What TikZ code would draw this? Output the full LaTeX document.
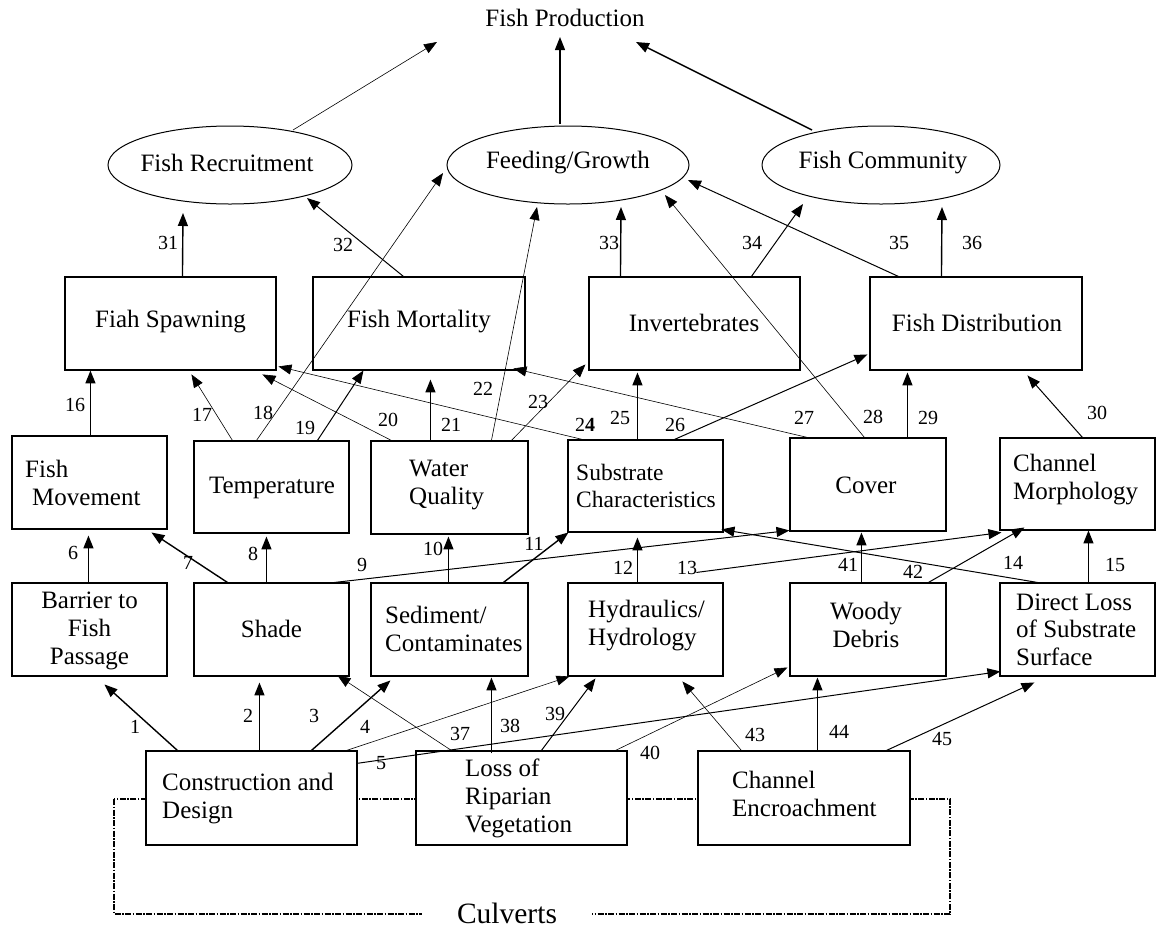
\documentclass[tikz,border=0pt]{standalone}
\usepackage{fontspec}
\setmainfont{Liberation Serif}
\usetikzlibrary{arrows.meta,shapes.geometric,calc}
\begin{document}
\begin{tikzpicture}[x=1pt,y=-1pt,
  box/.style={draw, line width=1.1pt, fill=white, inner sep=0pt, rectangle},
  oval/.style={draw, ellipse, line width=1pt, inner sep=0pt},
  txt/.style={font=\fontsize{25}{28}\selectfont, inner sep=0pt},
  num/.style={font=\fontsize{20}{22}\selectfont, inner sep=0pt},
  thk/.style={line width=1.4pt, -{Triangle[length=13pt,width=10pt]}},
  med/.style={line width=1.0pt, -{Triangle[length=13pt,width=10pt]}},
  thn/.style={line width=0.6pt, -{Triangle[length=13pt,width=10pt]}},
  culvline/.style={line width=1.4pt, dash pattern=on 6pt off 1.5pt on 1.5pt off 1.5pt},
]
\useasboundingbox (0,0) rectangle (1157,930);

% Culverts frame
\draw[culvline] (114,799) rectangle (950,914);

% top ellipses and goal
\node[txt] (fp) at (565,18) {Fish Production};
\node[oval, minimum width=244, minimum height=78] (rec) at (230,165) {};
\node[oval, minimum width=242, minimum height=78] (feed) at (568,165) {};
\node[oval, minimum width=238, minimum height=78] (comm) at (881,165) {};
\node[txt] (trec) at (227,163) {Fish Recruitment};
\node[txt] (tfeed) at (568,163) {Feeding/Growth};
\node[txt] (tcomm) at (883,163) {Fish Community};

% row 3
\node[box, minimum width=211, minimum height=93] (spawn) at (170.5,323.5) {};
\node[box, minimum width=212, minimum height=93] (mort) at (419,323.5) {};
\node[box, minimum width=211, minimum height=93] (inv) at (694.5,323.5) {};
\node[box, minimum width=212, minimum height=93] (dist) at (976,323.5) {};
\node[txt] (tspawn) at (170.5,322) {Fiah Spawning};
\node[txt] (tmort) at (419,322) {Fish Mortality};
\node[txt] (tinv) at (694,323) {Invertebrates};
\node[txt] (tdist) at (977,323) {Fish Distribution};

% row 2
\node[box, minimum width=155, minimum height=93] (fm) at (89.5,482.5) {};
\node[box, minimum width=155, minimum height=92] (temp) at (271.5,487) {};
\node[box, minimum width=157, minimum height=93] (wq) at (449.5,487.5) {};
\node[box, minimum width=155, minimum height=92] (sub) at (645.5,486) {};
\node[box, minimum width=156, minimum height=93] (cover) at (868,484.5) {};
\node[box, minimum width=155, minimum height=92] (cm) at (1077.5,484) {};
\node[txt, align=left, anchor=west] (tfm) at (25,483) {Fish\\\hspace*{7pt}Movement};
\node[txt] (ttemp) at (272,488) {Temperature};
\node[txt, align=left, anchor=west] (twq) at (409,485.5) {Water\\Quality};
\node[txt, align=left, anchor=west, font=\fontsize{23.5}{27}\selectfont] (tsub) at (576,485.5) {Substrate\\Characteristics};
\node[txt] (tcover) at (866,485) {Cover};
\node[txt, align=left, anchor=west] (tcm) at (1013,480) {Channel\\Morphology};

% row 1
\node[box, minimum width=155, minimum height=93] (barrier) at (89.5,629.5) {};
\node[box, minimum width=155, minimum height=93] (shade) at (271.5,629.5) {};
\node[box, minimum width=157, minimum height=93] (sed) at (449.5,629.5) {};
\node[box, minimum width=155, minimum height=93] (hyd) at (645.5,629.5) {};
\node[box, minimum width=156, minimum height=93] (woody) at (868,629.5) {};
\node[box, minimum width=155, minimum height=93] (dl) at (1077.5,629.5) {};
\node[txt, align=center] (tbarrier) at (89.5,631) {Barrier to\\Fish\\Passage};
\node[txt] (tshade) at (271.5,629) {Shade};
\node[txt, align=left, anchor=west] (tsed) at (385,629) {Sediment/\\Contaminates};
\node[txt, align=left, anchor=west] (thyd) at (588,626) {Hydraulics/\\Hydrology};
\node[txt, align=center] (twoody) at (866,625) {Woody\\Debris};
\node[txt, align=left, anchor=west, font=\fontsize{25}{27.5}\selectfont] (tdl) at (1016,629.5) {Direct Loss\\of Substrate\\Surface};

% row 0
\node[box, minimum width=211, minimum height=94] (cd) at (251.5,798) {};
\node[box, minimum width=211, minimum height=94] (lrv) at (521.5,798) {};
\node[box, minimum width=212, minimum height=94] (ce) at (804,798) {};
\node[txt, align=left, anchor=west] (tcd) at (162,799) {Construction and\\Design};
\node[txt, align=left, anchor=west] (tlrv) at (465,798.5) {Loss of\\Riparian\\Vegetation};
\node[txt, align=left, anchor=west] (tce) at (732,794) {Channel\\Encroachment};

\node[font=\fontsize{29.5}{32}\selectfont, fill=white, inner xsep=35pt, inner ysep=3pt] (culv) at (507,913) {Culverts};

% arrows to Fish Production
\draw[thn] ($(rec.center)+(63,-35)$) -- ($(fp.center)+(-128,24)$);
\draw[thk] ($(feed.center)+(-8,-41)$) -- ($(fp.center)+(-5,19)$);
\draw[thk] ($(comm.center)+(-69,-35)$) -- ($(fp.center)+(71,24)$);

% 31-36
\draw[thk] ($(spawn.north west)+(118,0)$) -- ($(rec.center)+(-47,48)$);
\draw[med] ($(mort.north west)+(91,0)$) -- ($(rec.center)+(77,33)$);
\draw[thk] ($(inv.north west)+(32,0)$) -- ($(feed.center)+(53,42)$);
\draw[med] ($(inv.north west)+(163,0)$) -- ($(comm.center)+(-78,39)$);
\draw[med] ($(dist.north west)+(29,0)$) -- ($(feed.center)+(120,15)$);
\draw[thk] ($(dist.north west)+(72,0)$) -- ($(comm.center)+(61,42)$);

% 16-30
\draw[thk] ($(fm.north west)+(79,0)$) -- ($(spawn.north west)+(26,94)$);
\draw[thn] ($(temp.north west)+(39,0)$) -- ($(spawn.north west)+(127,98)$);
\draw[thn] ($(temp.north west)+(63,0)$) -- ($(feed.center)+(-125,8)$);
\draw[med] ($(temp.north west)+(124,0)$) -- ($(mort.north west)+(51,94)$);
\draw[thn] ($(wq.north west)+(21,0)$) -- ($(spawn.north west)+(198,98)$);
\draw[thk] ($(wq.north west)+(60,0)$) -- ($(mort.north west)+(118,103)$);
\draw[thn] ($(wq.north west)+(121,0)$) -- ($(feed.center)+(-31,42)$);
\draw[thn] ($(wq.north west)+(141,0)$) -- ($(inv.north west)+(-3,88)$);
\draw[thn] ($(sub.north west)+(15,0)$) -- ($(spawn.north west)+(214,90)$);
\draw[thk] ($(sub.north west)+(70,0)$) -- ($(inv.north west)+(49,96)$);
\draw[med] ($(sub.north west)+(107,0)$) -- ($(dist.north west)+(-2,78)$);
\draw[thn] ($(cover.north west)+(18,0)$) -- ($(mort.north west)+(201,92)$);
\draw[thn] ($(cover.north west)+(75,0)$) -- ($(feed.center)+(97,30)$);
\draw[thk] ($(cover.north west)+(118,0)$) -- ($(dist.north west)+(38,96)$);
\draw[med] ($(cm.north west)+(83,0)$) -- ($(dist.north west)+(158,99)$);

% 6-15, 41, 42
\draw[thk] ($(barrier.north west)+(77,0)$) -- ($(fm.north west)+(77,100)$);
\draw[thk] ($(shade.north west)+(34,0)$) -- ($(fm.north west)+(140,97)$);
\draw[thk] ($(shade.north west)+(73,0)$) -- ($(temp.north west)+(73,96)$);
\draw[med] ($(shade.north west)+(141,0)$) -- ($(cover.north west)+(0,93)$);
\draw[thk] ($(sed.north west)+(78,0)$) -- ($(wq.north west)+(78,96)$);
\draw[thk] ($(sed.north west)+(133,0)$) -- ($(sub.north west)+(1,93)$);
\draw[thk] ($(hyd.north west)+(70,0)$) -- ($(sub.north west)+(70,98)$);
\draw[med] ($(hyd.north west)+(129,-10)$) -- ($(cm.north west)+(2,95)$);
\draw[med] ($(dl.north west)+(38,0)$) -- ($(sub.north west)+(154,90)$);
\draw[thk] ($(dl.north west)+(89,0)$) -- ($(cm.north west)+(89,93)$);
\draw[thk] ($(woody.north west)+(72,0)$) -- ($(cover.north west)+(72,95)$);
\draw[med] ($(woody.north west)+(139,0)$) -- ($(cm.north west)+(25,90)$);

% 1-5, 37-40, 43-45
\draw[thk] ($(cd.north west)+(32,0)$) -- ($(barrier.north west)+(93,102)$);
\draw[thk] ($(cd.north west)+(114,0)$) -- ($(shade.north west)+(66,100)$);
\draw[thk] ($(cd.north west)+(166,0)$) -- ($(sed.north west)+(20,98)$);
\draw[thn] ($(cd.north west)+(201,0)$) -- ($(hyd.north west)+(2,94)$);
\draw[med] ($(cd.north west)+(211,13)$) -- ($(dl.north west)+(1,89)$);
\draw[thn] ($(lrv.north west)+(36,0)$) -- ($(shade.north west)+(144,93)$);
\draw[thk] ($(lrv.north west)+(76,3)$) -- ($(sed.north west)+(121,95)$);
\draw[med] ($(lrv.north west)+(126,0)$) -- ($(hyd.north west)+(28,96)$);
\draw[thn] ($(lrv.north west)+(200,0)$) -- ($(woody.north west)+(-2,85)$);
\draw[thn] ($(ce.north west)+(44,0)$) -- ($(hyd.north west)+(115,99)$);
\draw[thk] ($(ce.north west)+(120,0)$) -- ($(woody.north west)+(28,95)$);
\draw[med] ($(ce.north west)+(189,0)$) -- ($(dl.north west)+(35,100)$);

% labels
\node[num] (l1) at (135,727) {1};
\node[num] (l2) at (248,716) {2};
\node[num] (l3) at (314,716) {3};
\node[num] (l4) at (365,727) {4};
\node[num] (l5) at (381,763) {5};
\node[num] (l6) at (73,553) {6};
\node[num] (l7) at (188,563) {7};
\node[num] (l8) at (253,554) {8};
\node[num] (l9) at (362,565) {9};
\node[num] (l10) at (433,549) {10};
\node[num] (l11) at (534,544) {11};
\node[num] (l12) at (623,568) {12};
\node[num] (l13) at (687,568) {13};
\node[num] (l14) at (1013,563) {14};
\node[num] (l15) at (1115,565) {15};
\node[num] (l16) at (75,405) {16};
\node[num] (l17) at (202,415) {17};
\node[num] (l18) at (263,413) {18};
\node[num] (l19) at (305,428) {19};
\node[num] (l20) at (388,420) {20};
\node[num] (l21) at (451,425) {21};
\node[num] (l22) at (483,389) {22};
\node[num] (l23) at (538,402) {23};
\node[num] (l24) at (585,425) {2\textbf{4}};
\node[num] (l25) at (620,418) {25};
\node[num] (l26) at (675,425) {26};
\node[num] (l27) at (804,418) {27};
\node[num] (l28) at (873,417) {28};
\node[num] (l29) at (928,418) {29};
\node[num] (l30) at (1097,413) {30};
\node[num] (l31) at (168,243) {31};
\node[num] (l32) at (343,245) {32};
\node[num] (l33) at (609,243) {33};
\node[num] (l34) at (752,243) {34};
\node[num] (l35) at (899,243) {35};
\node[num] (l36) at (972,243) {36};
\node[num] (l37) at (460,734) {37};
\node[num] (l38) at (510,726) {38};
\node[num] (l39) at (555,714) {39};
\node[num] (l40) at (650,753) {40};
\node[num] (l41) at (848,565) {41};
\node[num] (l42) at (913,572) {42};
\node[num] (l43) at (755,735) {43};
\node[num] (l44) at (839,732) {44};
\node[num] (l45) at (942,739) {45};
\end{tikzpicture}
\end{document}
